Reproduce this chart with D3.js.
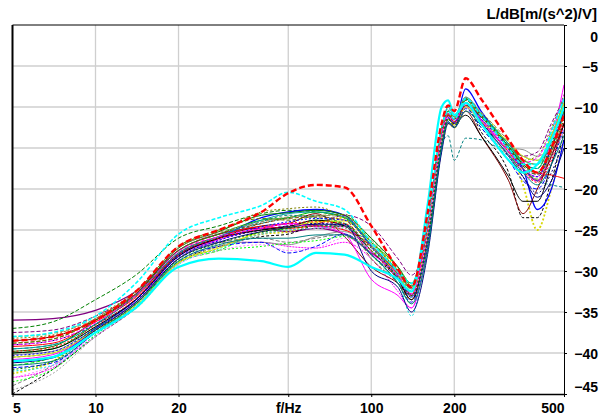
<!DOCTYPE html>
<html><head><meta charset="utf-8">
<script src="https://cdn.jsdelivr.net/npm/d3@7"></script>
<style>html,body{margin:0;padding:0;background:#fff;}svg{display:block;}</style>
</head><body>
<svg id="c" width="602" height="416"></svg>
<script>
const freqs = [5, 7, 10, 14, 20, 28, 40, 50, 63, 80, 100, 125, 140, 160, 180, 190, 200, 220, 250, 315, 355, 400, 450, 500];
const xTickValues = [5, 10, 20, 50, 100, 200, 500];
const xTickLabels = ["5", "10", "20", "f/Hz", "100", "200", "500"];
const yTickValues = [0, -5, -10, -15, -20, -25, -30, -35, -40, -45];
const yTitle = "L/dB[m/(s^2)/V]";

const s01 = [-39.5,-39,-36.5,-33.5,-28,-26,-24.2,-23.5,-23.2,-24.5,-27.5,-31,-33.2,-26,-14,-11.2,-12,-9.6,-11.6,-15.5,-17.5,-18.2,-15,-11];
const s02 = [-36,-35.8,-34.8,-32.5,-27.5,-25.5,-24.8,-25.2,-24.8,-25.5,-27.8,-30.5,-33,-26,-14,-11,-11.5,-9,-11,-15,-17.5,-19,-16,-12];
const s03 = [-37,-36.2,-33.5,-30.5,-26,-24.5,-23,-22.6,-22.8,-23.5,-27,-30,-32,-24,-13,-11,-12,-9.5,-11.5,-15.5,-17,-17.5,-14,-10.5];
const s04 = [-45,-42,-38,-34.5,-29,-27,-25.8,-25.5,-24.5,-24.5,-27.5,-31,-33.5,-26,-14,-11.5,-12,-10,-13,-18,-23.5,-23.5,-19,-13];
const s05 = [-44,-41.5,-37.5,-34,-28.5,-26.5,-26,-26.5,-26,-25.5,-28,-31,-33,-25,-14,-11.5,-12.5,-10,-12,-15,-16,-16.5,-15,-12];
const s06 = [-43,-41.8,-37.5,-34,-28.5,-26.5,-26.5,-27,-27.2,-26.5,-28.5,-32.5,-34.5,-26,-14.5,-12,-12.5,-10,-11.5,-15.5,-18,-19,-15,-9.5];
const s07 = [-42.5,-41,-37,-34.5,-29,-27,-25.5,-25.2,-24.2,-23.5,-26.5,-30,-32.5,-27,-15,-12,-12.5,-10,-10.8,-15.3,-19.5,-25,-20,-14];
const s08 = [-41,-40.5,-37,-33.5,-28,-26,-23.5,-22.8,-22.5,-23.2,-27,-30.5,-33,-27,-15,-11.5,-12,-7.8,-10.5,-15,-17.5,-22.5,-20,-14];
const s09 = [-40,-39.5,-36.5,-33,-27.5,-25.5,-23.8,-23.5,-22.8,-23.5,-26.5,-29.5,-31.5,-24,-12.5,-10.5,-11.5,-9,-11,-14.5,-16.5,-17,-13.5,-9.5];
const s10 = [-41.5,-40.5,-37,-34,-29,-27.5,-25.2,-24.8,-23.8,-24.2,-28,-31.5,-34,-27,-14,-11,-12,-10,-12.5,-16,-18,-18.5,-15,-11];
const s11 = [-38.5,-38,-36,-33,-28,-26,-24.5,-24.2,-23,-25.8,-29.5,-31.5,-33,-25,-13.5,-11,-12.5,-10.5,-13.5,-19,-23,-20,-16,-12];
const s12 = [-39,-38.5,-36.5,-33.5,-28,-26.2,-25,-24.5,-24.2,-24.5,-28,-31,-33.5,-27,-14.5,-11.5,-12,-9.5,-12,-16,-18.5,-20.5,-18,-14];
const s13 = [-40.5,-40,-37,-33.5,-28,-26,-24,-23.2,-23.5,-24.2,-27,-30,-31.5,-24,-14.5,-13.5,-16.5,-13.8,-14,-16,-17.5,-19,-19.5,-19.8];
const s14 = [-38.2,-37.8,-35.5,-32.5,-27,-25.2,-22.8,-22.4,-22.2,-23.6,-26.5,-30,-32,-25,-13,-10.5,-11.5,-9,-11,-14.5,-16.5,-16,-12.5,-8.5];
const s15 = [-40.2,-39.8,-36.8,-33.8,-28.5,-26.5,-26.5,-26.8,-25.8,-25.2,-27.5,-31,-33,-25.5,-13.5,-11,-12,-9.5,-11.5,-15,-15.2,-16,-14.5,-11];
const s16 = [-40.8,-40.2,-37.2,-33.8,-28.2,-26.2,-24.8,-24.2,-24.5,-25.5,-31,-33,-34.5,-26.5,-14,-11.2,-12,-9.8,-11.5,-15.5,-17.5,-18.5,-14,-7.3];
const s17 = [-39.2,-38.8,-36.2,-33.2,-27.8,-25.8,-24.6,-24.8,-24.5,-25,-27,-30.5,-32.8,-25,-13.5,-10.8,-11.8,-9.5,-11.2,-15,-17,-18,-18.3,-18.7];
const s18 = [-41.8,-41.2,-37.5,-34.2,-28.8,-27,-26.5,-27.8,-27,-25.5,-28,-31.5,-33.8,-26.5,-14.5,-11.8,-12.5,-10.2,-12.5,-16.5,-19,-20,-17,-12.5];
const s19 = [-39.8,-39.2,-36,-32.8,-27.2,-25.2,-23.2,-22.9,-22.6,-23.2,-26,-29.5,-31.8,-24.5,-13,-10.5,-11.2,-9,-11,-14.8,-17,-18,-15,-10.5];
const s20 = [-37.5,-37.2,-35.5,-32.8,-27.8,-26,-25,-24.5,-24.3,-23.2,-24.5,-28.5,-30.5,-25.5,-14,-11.5,-12,-9.8,-11.2,-14.5,-16,-15.5,-12,-9];
const s21 = [-40,-39.5,-36.8,-33.5,-28.2,-26,-25,-24.6,-23.8,-24.5,-27.5,-31,-33.5,-26,-14,-11.5,-12,-11,-13.5,-18.5,-21.5,-21.5,-17,-12];
const s22 = [-42.2,-41.5,-37.8,-34.3,-29.2,-27.3,-25.5,-25,-24.8,-24.6,-27.5,-31,-35.5,-25,-12.8,-10.2,-11.2,-9.2,-11,-14.5,-16,-16.5,-14,-9.5];
const s23 = [-43.5,-42,-37.8,-34,-28.8,-27.5,-27,-26.6,-26.3,-25.8,-27.5,-30.5,-32.5,-25,-13.5,-11,-11.8,-9.5,-11,-14.5,-16.8,-17.5,-13,-8.5];
const s24 = [-38.8,-38.3,-36,-32.8,-27.5,-25.5,-24.2,-23.6,-23.4,-23.8,-28.5,-31.5,-33.5,-26,-14,-11,-11.5,-9.2,-11,-15,-17.2,-18.2,-15.5,-11.5];
const s25 = [-44.5,-42.5,-38,-34.5,-29,-27,-25.5,-25,-24.8,-24.8,-28.5,-31.5,-34,-26.5,-14.5,-12,-12.5,-10,-12,-16,-17.5,-18,-16,-13];
const s26 = [-39.5,-39,-36.5,-33,-27.8,-25.8,-23.8,-23,-22.8,-23.4,-26.8,-30.2,-32.2,-24,-12.5,-10,-11,-8.8,-10.8,-14.5,-16.8,-17.5,-14,-9];
const s27 = [-40.5,-40,-37.2,-34.2,-29,-27.2,-25.2,-24.7,-24,-23.9,-27,-30.5,-32.5,-25.5,-14,-11.5,-12.2,-10,-11.8,-14.2,-16,-16.5,-13.5,-9.5];
const s28 = [-41.2,-40.6,-37.2,-33.8,-28.5,-26.5,-25.2,-24.7,-24.3,-24.3,-30,-32,-35,-28,-15.5,-12,-12.5,-9.5,-11.8,-16,-18.5,-21,-19,-15];
const s29 = [-43,-41.5,-38,-34.5,-29.2,-27.5,-26.8,-27.5,-27.2,-26,-27.5,-31,-33,-25.5,-13.8,-11.2,-12,-10,-12,-16,-18,-18.5,-16.5,-12.5];
const s30 = [-38.8,-38.3,-35.8,-32.5,-27,-25,-23.6,-23.8,-23.3,-23.1,-26.5,-30,-32,-24.5,-13,-10.8,-11.5,-9.2,-11.2,-15,-17.5,-18.8,-15.5,-10.5];
const s31 = [-39.8,-39.3,-36.6,-33.4,-28,-26,-24.8,-24.2,-24,-24.2,-27.5,-31,-33,-25,-13.5,-11,-11.8,-9.8,-11.8,-15.5,-17.8,-19.2,-16.5,-12];
const s32 = [-41.5,-41,-37.5,-34,-28.8,-26.8,-26,-26,-25.6,-25.6,-28,-31.5,-34,-27.5,-15,-11.8,-12.5,-10.5,-12.2,-15.8,-18,-19.5,-17,-13.5];
const s33 = [-40.3,-39.8,-37,-33.6,-28.3,-26.3,-24.6,-24,-23.6,-23.8,-27,-30.8,-33.2,-26,-14.2,-11.3,-12,-9.5,-11.4,-15.2,-17.6,-18.5,-15,-10.5];
const s34 = [-39,-38.5,-36.3,-33,-27.6,-25.8,-24.8,-24.3,-24.6,-24.6,-27.8,-30.5,-32.8,-24.5,-13.2,-10.8,-11.7,-9.6,-11.6,-15.4,-16.8,-16.2,-12.8,-8.5];
const s35 = [-42,-41,-37.3,-34,-28.6,-26.6,-25.3,-24.8,-24.5,-24.6,-27.2,-30.8,-33,-26.5,-14.5,-11.5,-12.2,-9.8,-11.2,-14.8,-17,-18,-14.5,-10];
const s36 = [-38,-37.6,-35.8,-32.5,-27.2,-25.3,-24,-23.4,-23.2,-23.4,-26.2,-29.6,-31.6,-24,-12.8,-10.4,-11.2,-8.8,-10.6,-14.2,-16.4,-17,-14,-10];
const s37 = [-41,-40.5,-37.5,-34.5,-29.5,-28.5,-28.8,-29.5,-27.8,-28,-29.5,-31,-32.5,-22,-10,-9.2,-11,-9.5,-12,-16.5,-18,-17,-14,-10];
const s38 = [-38,-37.5,-35.5,-31.5,-25.5,-23.5,-22,-20.4,-21.5,-22.5,-26.5,-30,-31.5,-24,-12.5,-10.5,-11.5,-9,-11,-15,-17,-17,-13,-9];
const s39 = [-38.5,-38,-36,-32.5,-27,-25,-22.8,-20.5,-19.5,-19.8,-24.5,-29.8,-32,-23,-12,-9.8,-10.5,-6.5,-9,-14,-16.5,-18,-15,-11];

const seriesValues = [s01,s02,s03,s04,s05,s06,s07,s08,s09,s10,s11,s12,s13,s14,s15,s16,s17,s18,s19,s20,s21,s22,s23,s24,s25,s26,s27,s28,s29,s30,s31,s32,s33,s34,s35,s36,s37,s38,s39];
const seriesColors = ["#008080","#800080","#008000","#000000","#808080","#ff00ff","#d8d800","#0000ff","#00c000","#00ff00","#800000","#000080","#008080","#808000","#909090","#ff00ff","#ff0000","#0000ff","#008000","#800080","#000000","#00e0e0","#00ff00","#804000","#a0a0a0","#00a0a0","#e0e000","#000080","#ff80ff","#608000","#ff0000","#008080","#0000ff","#ff00ff","#008000","#909060","#00ffff","#00ffff","#ff0000"];
const seriesDash = ["4,2","","4,2","3,2","4,2","2,1","2,2","","","4,2","","2,2","3,2","2,2","","","","4,2","","4,2","","2,2","2,2","4,2","2,2","","","","2,2","4,2","2,2","","2,2","4,2","2,2","4,2","","4,2","6,3"];
const seriesWidth = [1,1.3,1,1,1,1,1.8,1.3,1,1,1,1,1,1,1,1,1,1,1,1,1,1,1,1,1,1,1,1,1,1,1,1,1,1,1,1,2.2,1.6,2.4];

const svg = d3.select("#c");
const L = 12.5, R = 564, T = 25, B = 394;
const x = d3.scaleLog().domain([5, 500]).range([L, R]);
const y = d3.scaleLinear().domain([-45, 0]).range([B, T]);

// grid
const grid = svg.append("g").attr("stroke", "#cfcfcf").attr("stroke-width", 1.3);
grid.selectAll("line.v").data(xTickValues.slice(1, -1)).enter().append("line")
  .attr("x1", d => x(d)).attr("x2", d => x(d)).attr("y1", T).attr("y2", B);
grid.selectAll("line.h").data(yTickValues.slice(1, -1)).enter().append("line")
  .attr("x1", L).attr("x2", R).attr("y1", d => y(d)).attr("y2", d => y(d));

svg.append("clipPath").attr("id", "clip").append("rect")
  .attr("x", L).attr("y", T).attr("width", R - L).attr("height", B - T);

const line = d3.line().x((d, i) => x(freqs[i])).y(d => y(d)).curve(d3.curveMonotoneX);
const lines = svg.append("g").attr("clip-path", "url(#clip)").attr("fill", "none");
seriesValues.forEach((vals, k) => {
  lines.append("path").attr("d", line(vals))
    .attr("stroke", seriesColors[k])
    .attr("stroke-width", seriesWidth[k])
    .attr("stroke-dasharray", seriesDash[k] || null)
    .attr("stroke-linejoin", "round");
});

// frame
svg.append("line").attr("x1", L).attr("x2", L).attr("y1", T).attr("y2", B + 1).attr("stroke", "#000").attr("stroke-width", 2);
svg.append("line").attr("x1", L).attr("x2", R).attr("y1", T).attr("y2", T).attr("stroke", "#000").attr("stroke-width", 1);

const fontFam = "'Liberation Sans', Arial, sans-serif";
// bottom axis
const xAxis = d3.axisBottom(x).tickValues(xTickValues).tickSize(3).tickSizeOuter(0)
  .tickFormat((d, i) => xTickLabels[i]);
const gx = svg.append("g").attr("transform", `translate(0,${B})`).call(xAxis);
gx.select(".domain").attr("stroke-width", 1.5);
gx.selectAll("text").attr("font-family", fontFam).attr("font-weight", "bold").attr("font-size", 14)
  .attr("fill", "#000").attr("dy", "0.9em")
  .attr("text-anchor", (d, i) => i === 0 ? "start" : (i === xTickValues.length - 1 ? "end" : "middle"));

// right axis (end labels pulled inside so they clear the title and the bottom labels)
const yAxis = d3.axisRight(y).tickValues(yTickValues).tickSize(3).tickSizeOuter(0).tickFormat(d3.format("d"));
const gy = svg.append("g").attr("transform", `translate(${R},0)`).call(yAxis);
gy.selectAll("text").attr("font-family", fontFam).attr("font-weight", "bold").attr("font-size", 14)
  .attr("fill", "#000").attr("text-anchor", "end").attr("x", 34)
  .attr("dy", (d, i) => i === 0 ? "1.2em" : (i === yTickValues.length - 1 ? "-0.15em" : "0.38em"));

svg.append("text").attr("x", 597).attr("y", 19).attr("text-anchor", "end")
  .attr("font-family", fontFam).attr("font-weight", "bold").attr("font-size", 15).text(yTitle);
</script>
</body></html>
